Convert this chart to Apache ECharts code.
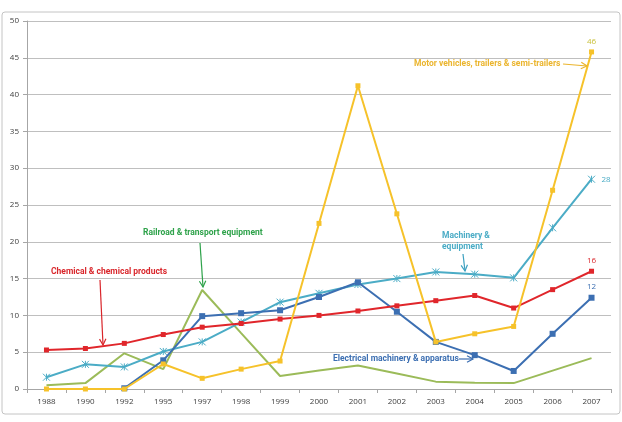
<!DOCTYPE html>
<html><head><meta charset="utf-8">
<script src="https://cdn.jsdelivr.net/npm/echarts@6/dist/echarts.min.js"></script>
<style>html,body{margin:0;padding:0;background:#fff}#c{width:622px;height:422px}</style>
</head><body><div id="c"></div>
<script>
const years = ['1988','1990','1992','1995','1997','1998','1999','2000','2001','2002','2003','2004','2005','2006','2007'];
const chemical = [5.3,5.5,6.2,7.4,8.4,8.9,9.5,10.0,10.6,11.3,12.0,12.7,11.0,13.5,16.0];
const electrical = [null,null,0.1,3.9,9.9,10.3,10.7,12.5,14.5,10.5,6.4,4.6,2.45,7.5,12.4];
const machinery = [1.6,3.35,3.0,5.1,6.4,9.1,11.8,13.0,14.2,15.0,15.9,15.6,15.1,21.9,28.5];
const railroad = [0.5,0.8,4.85,2.7,13.45,7.6,1.77,2.5,3.2,2.1,1.0,0.86,0.8,2.5,4.2];
const motor = [0,0,0,3.4,1.45,2.7,3.8,22.5,41.2,23.8,6.4,7.5,8.5,27.0,45.8];
const endLabels = {motor:'46', machinery:'28', chemical:'16', electrical:'12', railroad:'4'};

const C = {red:'#E0262B', blue:'#3C6FB2', cyan:'#4BACC6', green:'#9BBB59', yellow:'#F6C22A'};
const FONT = 'Open Sans';
const AFONT = 'Roboto';

function withEnd(arr, text, color, pos){
  return arr.map((v,i)=> i===arr.length-1 ? {value:v, label:{show:true, formatter:text, position:pos, color:color, fontSize:8, fontFamily:FONT, distance:4}} : v);
}
const chart = echarts.init(document.getElementById('c'), null, {renderer:'canvas'});

function arrow(x1,y1,x2,y2,color){
  const ang = Math.atan2(y2-y1,x2-x1), L=6, W=3.2;
  const bx = x2 - L*Math.cos(ang), by = y2 - L*Math.sin(ang);
  const px = -Math.sin(ang)*W, py = Math.cos(ang)*W;
  return [
    {type:'line', shape:{x1:x1,y1:y1,x2:x2,y2:y2}, style:{stroke:color, lineWidth:1.2}, z:100},
    {type:'polyline', shape:{points:[[bx+px,by+py],[x2,y2],[bx-px,by-py]]}, style:{stroke:color, lineWidth:1.2, fill:null}, z:100}
  ];
}
function txt(x,y,t,color){
  return {type:'text', x:x, y:y, style:{text:t, fill:color, font:'bold 8.5px "'+AFONT+'"', textVerticalAlign:'middle'}, z:100};
}

const graphic = [
  {type:'rect', shape:{x:2, y:12, width:618, height:402, r:3}, style:{stroke:'#C4C4C4', lineWidth:1, fill:null}, z:-1},
  txt(414,64,'Motor vehicles, trailers & semi-trailers','#EBB52E'),
  ...arrow(563,64,587,66,'#EBB52E'),
  txt(442,236,'Machinery &','#4BACC6'),
  txt(442,247,'equipment','#4BACC6'),
  ...arrow(463,254,465,271,'#3CA0C0'),
  txt(51,272,'Chemical & chemical products','#D9262B'),
  ...arrow(100,280,103,345,'#D9262B'),
  txt(143,233,'Railroad & transport equipment','#2EA24A'),
  ...arrow(200,243,203,287,'#2EA24A'),
  txt(333,359,'Electrical machinery & apparatus','#3C6FB2'),
  ...arrow(459,359,473,359,'#3C6FB2')
];

const asterisk = 'path://M0,0L10,10M10,0L0,10M5,0L5,10';

chart.setOption({
  animation:false,
  backgroundColor:'#fff',
  grid:{left:27, right:11, top:21, bottom:33, containLabel:false},
  xAxis:{type:'category', data:years, boundaryGap:true,
    axisLine:{lineStyle:{color:'#A6A6A6', width:1}},
    axisTick:{show:true, alignWithLabel:false, length:4, lineStyle:{color:'#A6A6A6'}},
    axisLabel:{color:'#404040', fontSize:8, fontFamily:FONT, margin:9}},
  yAxis:{type:'value', min:0, max:50, interval:5,
    axisLine:{show:true, lineStyle:{color:'#A6A6A6'}},
    axisTick:{show:true, length:4, lineStyle:{color:'#A6A6A6'}},
    splitLine:{lineStyle:{color:'#BFBFBF', width:1}},
    axisLabel:{color:'#404040', fontSize:8, fontFamily:FONT, margin:8}},
  graphic: graphic,
  series:[
    {name:'Railroad & transport equipment', type:'line', data:withEnd(railroad, endLabels.railroad, '#8AA84E','right'),
      showSymbol:false, symbol:'none', lineStyle:{color:C.green, width:2}, itemStyle:{color:C.green}, z:2},
    {name:'Machinery & equipment', type:'line', data:withEnd(machinery, endLabels.machinery, '#4BACC6','right'),
      symbol:asterisk, symbolSize:7, lineStyle:{color:C.cyan, width:2}, itemStyle:{color:'none', borderColor:C.cyan, borderWidth:1}, z:3},
    {name:'Electrical machinery & apparatus', type:'line', data:withEnd(electrical, endLabels.electrical, '#3C6FB2','top'),
      symbol:'rect', symbolSize:6, lineStyle:{color:C.blue, width:2}, itemStyle:{color:C.blue}, z:4},
    {name:'Chemical & chemical products', type:'line', data:withEnd(chemical, endLabels.chemical, '#D9262B','top'),
      symbol:'rect', symbolSize:5, lineStyle:{color:C.red, width:2}, itemStyle:{color:C.red}, z:5},
    {name:'Motor vehicles, trailers & semi-trailers', type:'line', data:withEnd(motor, endLabels.motor, '#C8C03A','top'),
      symbol:'rect', symbolSize:5, lineStyle:{color:C.yellow, width:2}, itemStyle:{color:C.yellow}, z:6}
  ]
});
</script></body></html>
